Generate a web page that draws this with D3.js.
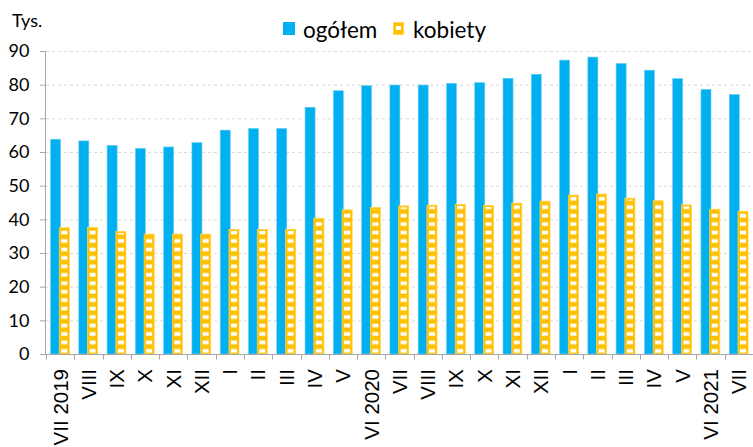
<!DOCTYPE html>
<html><head><meta charset="utf-8">
<script src="https://cdn.jsdelivr.net/npm/d3@7"></script>
<style>html,body{margin:0;padding:0;background:#fff;}svg{display:block;}</style>
</head><body><svg id="c" width="753" height="447"></svg>
<script>
const categories = ["VII 2019","VIII","IX","X","XI","XII","I","II","III","IV","V","VI 2020","VII","VIII","IX","X","XI","XII","I","II","III","IV","V","VI 2021","VII"];
const ogolem  = [63.8,63.3,62.0,61.1,61.5,62.8,66.5,67.0,67.0,73.3,78.2,79.7,79.9,79.9,80.4,80.6,81.9,83.1,87.3,88.2,86.3,84.3,81.8,78.6,77.1];
const kobiety = [37.5,37.6,36.4,35.6,35.6,35.6,37.0,37.0,37.0,40.3,42.8,43.5,44.0,44.2,44.4,44.1,44.8,45.4,47.2,47.5,46.3,45.5,44.3,43.0,42.4];
const yTicks = [0,10,20,30,40,50,60,70,80,90];
const seriesNames = ["ogółem","kobiety"];
const unitLabel = "Tys.";

const BLUE = "#00b0f0", YEL = "#ffc000";
const svg = d3.select("#c");
const keys = categories.map((d,i)=>i);
const x = d3.scaleBand().domain(keys).range([46,753]).padding(0);
const y = d3.scaleLinear().domain([0,90]).range([354,51]);

const defs = svg.append("defs");
const pat = defs.append("pattern").attr("id","stripes").attr("patternUnits","userSpaceOnUse")
  .attr("x",0).attr("y",y(0)).attr("width",1000).attr("height",8.45);
pat.append("rect").attr("x",0).attr("y",8.45-5).attr("width",1000).attr("height",3.7).attr("fill","#fff");

// gridlines
svg.append("g").selectAll("line").data(yTicks.filter(d=>d>0)).join("line")
  .attr("x1",46).attr("x2",753).attr("y1",d=>y(d)+0.5).attr("y2",d=>y(d)+0.5)
  .attr("stroke","#d9d9d9").attr("stroke-width",1).attr("stroke-dasharray","3,3");

const bw = x.bandwidth();
// blue bars
svg.append("g").selectAll("rect").data(ogolem).join("rect")
  .attr("x",(d,i)=>x(i)+0.16*bw).attr("width",0.355*bw)
  .attr("y",d=>y(d)).attr("height",d=>y(0)-y(d))
  .attr("fill",BLUE).attr("stroke","#6fcdf2").attr("stroke-width",0.6);
// yellow bars
const gy = svg.append("g");
gy.selectAll("rect.b").data(kobiety).join("rect").attr("class","b")
  .attr("x",(d,i)=>x(i)+0.47*bw).attr("width",0.355*bw)
  .attr("y",d=>y(d)).attr("height",d=>y(0)-y(d))
  .attr("fill",YEL).attr("stroke","#ffd34d").attr("stroke-width",0.8);
gy.selectAll("rect.p").data(kobiety).join("rect").attr("class","p")
  .attr("x",(d,i)=>x(i)+0.47*bw+2).attr("width",0.355*bw-4)
  .attr("y",d=>y(d)+1.5).attr("height",d=>y(0)-y(d)-1.5)
  .attr("fill","url(#stripes)");

// axes
const AX = "#a6a6a6";
svg.append("line").attr("x1",45.5).attr("x2",45.5).attr("y1",y(90)).attr("y2",y(0)).attr("stroke",AX);
svg.append("g").selectAll("line").data(yTicks).join("line")
  .attr("x1",40).attr("x2",45.5).attr("y1",d=>y(d)+0.5).attr("y2",d=>y(d)+0.5).attr("stroke",AX);
svg.append("line").attr("x1",40).attr("x2",753).attr("y1",y(0)+0.5).attr("y2",y(0)+0.5).attr("stroke",AX);
svg.append("g").selectAll("line").data(keys.concat([keys.length])).join("line")
  .attr("x1",d=>Math.round(d<keys.length?x(d):x(keys.length-1)+bw)+0.5)
  .attr("x2",d=>Math.round(d<keys.length?x(d):x(keys.length-1)+bw)+0.5)
  .attr("y1",y(0)).attr("y2",y(0)+5.5).attr("stroke",AX);

// y labels
svg.append("g").selectAll("text").data(yTicks).join("text")
  .attr("x",29.5).attr("y",d=>y(d)).attr("dy","0.36em").attr("text-anchor","end")
  .attr("font-family","Lato").attr("font-size",18).attr("fill","#000").text(d=>d);
svg.append("text").attr("x",12).attr("y",27).attr("font-family","Lato").attr("font-size",18).text(unitLabel);

// x labels
svg.append("g").selectAll("text").data(categories).join("text")
  .attr("transform",(d,i)=>`translate(${x(i)+bw/2},369) rotate(-90)`)
  .attr("dy","0.36em").attr("text-anchor","end")
  .attr("font-family","Liberation Sans, Arial").attr("font-size",20.5).attr("fill","#000").text(d=>d);

// legend
const lg = svg.append("g");
lg.append("rect").attr("x",283).attr("y",22).attr("width",12).attr("height",13).attr("fill",BLUE);
lg.append("text").attr("x",303).attr("y",37.5).attr("font-family","Lato").attr("font-size",22.5).text(seriesNames[0]);
lg.append("rect").attr("x",393.5).attr("y",22.5).attr("width",10).attr("height",12).attr("fill",YEL).attr("stroke","#ffd34d");
lg.append("rect").attr("x",396).attr("y",26).attr("width",5).attr("height",4).attr("fill","#fff");
lg.append("text").attr("x",413).attr("y",37.5).attr("font-family","Lato").attr("font-size",22.5).text(seriesNames[1]);
</script></body></html>
